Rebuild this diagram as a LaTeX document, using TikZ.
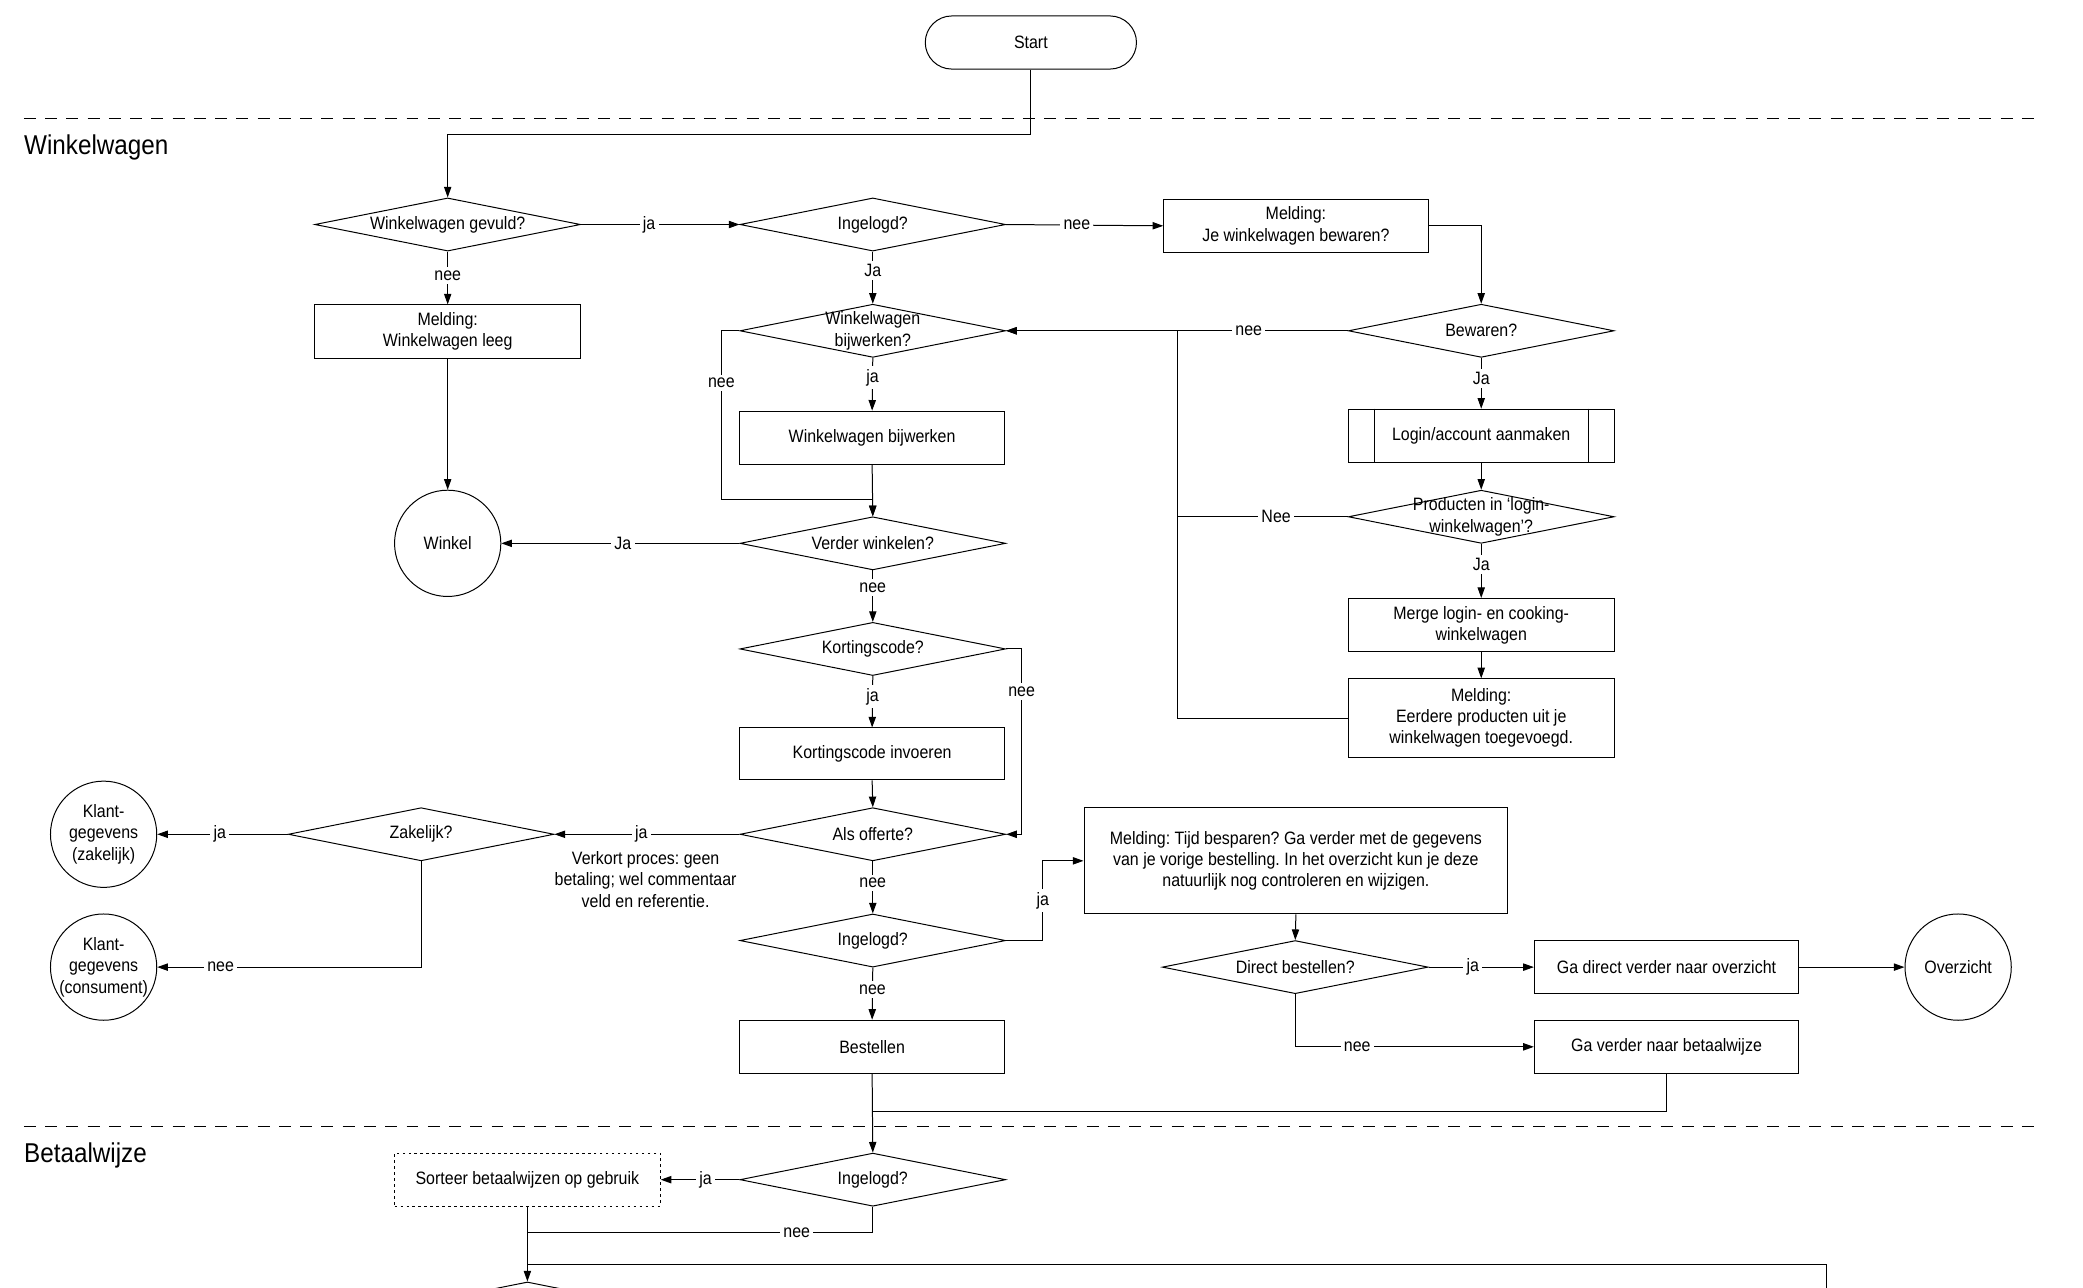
\documentclass[tikz,border=0pt]{standalone}
\usepackage{fontspec}
\setmainfont{Liberation Sans}[FakeStretch=0.89]
\usetikzlibrary{arrows.meta,shapes.geometric}
\frenchspacing
\tikzset{
 base/.style={draw, line width=0.75pt, inner sep=0pt},
 box/.style={base, rectangle, minimum width=200pt, minimum height=40pt, align=center},
 dec/.style={base, diamond, minimum width=200pt, minimum height=40pt},
 term/.style={base, circle, minimum size=80pt},
 arr/.style={line width=0.75pt, -{Triangle[length=8pt,width=5.5pt]}},
 ln/.style={line width=0.75pt},
 lbl/.style={fill=white, inner sep=2.5pt},
 sepline/.style={line width=0.75pt, dash pattern=on 9pt off 7pt},
 head/.style={font=\fontsize{20.5}{24}\selectfont, anchor=west, inner sep=0pt},
}
\begin{document}
\begin{tikzpicture}[x=1pt,y=-1pt,font=\fontsize{13.5}{16}\selectfont]
\clip (0,0) rectangle (1568,969);
\fill[white] (0,0) rectangle (1568,969);

% separators and headings
\coordinate (s1a) at (18,89); \coordinate (s1b) at (1535,89);
\coordinate (s2a) at (18,848); \coordinate (s2b) at (1535,848);
\draw[sepline] (s1a) -- (s1b);
\draw[sepline] (s2a) -- (s2b);
\node[head] (hw) at (18,111) {Winkelwagen};
\node[head] (hb) at (18,870) {Betaalwijze};

% nodes
\node[base, rectangle, rounded corners=20pt, minimum width=159pt, minimum height=40pt] (start) at (776,32) {Start};
\node[dec, label={[align=center]center:Winkelwagen gevuld?}] (gev) at (337,169) {};
\node[dec, label={[align=center]center:Ingelogd?}] (in1) at (657,169) {};
\node[box, minimum width=199pt] (mel1) at (975.5,170) {Melding:\\Je winkelwagen bewaren?};
\node[box] (leeg) at (337,249.5) {Melding:\\Winkelwagen leeg};
\node[dec, label={[align=center]center:Winkelwagen\\bijwerken?}] (bijw) at (657,249) {};
\node[dec, label={[align=center]center:Bewaren?}] (bew) at (1115,249) {};
\node[box, minimum width=199pt] (wbb) at (656.5,329.5) {Winkelwagen bijwerken};
\node[box] (login) at (1115,328) {Login/account aanmaken};
\draw[ln] ([xshift=20pt]login.north west) -- ([xshift=20pt]login.south west);
\draw[ln] ([xshift=-20pt]login.north east) -- ([xshift=-20pt]login.south east);
\node[dec, label={[align=center]center:Producten in ‘login-\\winkelwagen’?}] (prod) at (1115,389) {};
\node[term, label={[align=center]center:Winkel}] (winkel) at (337,409) {};
\node[dec, label={[align=center]center:Verder winkelen?}] (verder) at (657,409) {};
\node[box] (merge) at (1115,470.5) {Merge login- en cooking-\\winkelwagen};
\node[dec, label={[align=center]center:Kortingscode?}] (kc) at (657,488.5) {};
\node[box, minimum height=59pt] (mel3) at (1115,540.5) {Melding:\\Eerdere producten uit je\\winkelwagen toegevoegd.};
\node[box, minimum width=199pt, minimum height=39pt] (kci) at (656.5,567.5) {Kortingscode invoeren};
\node[dec, label={[align=center]center:Als offerte?}] (off) at (657,628) {};
\node[dec, label={[align=center]center:Zakelijk?}] (zak) at (317,628) {};
\node[term, label={[align=center]center:Klant-\\gegevens\\(zakelijk)}] (kz) at (78,628) {};
\node[term, label={[align=center]center:Klant-\\gegevens\\(consument)}] (kk) at (78,728) {};
\node[align=center, inner sep=0pt] (verk) at (486,662) {Verkort proces: geen\\betaling; wel commentaar\\veld en referentie.};
\node[box, minimum width=319pt, minimum height=80pt] (tijd) at (975.5,648) {Melding: Tijd besparen? Ga verder met de gegevens\\van je vorige bestelling. In het overzicht kun je deze\\natuurlijk nog controleren en wijzigen.};
\node[dec, label={[align=center]center:Ingelogd?}] (in2) at (657,708) {};
\node[dec, label={[align=center]center:Direct bestellen?}] (direct) at (975,728) {};
\node[box, minimum width=199pt] (gdv) at (1254.5,728) {Ga direct verder naar overzicht};
\node[term, label={[align=center]center:Overzicht}] (ovz) at (1474,728) {};
\node[box, minimum width=199pt] (gvb) at (1254.5,788) {Ga verder naar betaalwijze};
\node[box, minimum width=199pt] (best) at (656.5,788) {Bestellen};
\node[dec, label={[align=center]center:Ingelogd?}] (in3) at (657,888) {};
\node[box, draw, line width=0.7pt, dash pattern=on 2pt off 2.5pt] (sort) at (397,888) {Sorteer betaalwijzen op gebruik};
\node[dec] (bd) at (397,985) {};

% connectors
\draw[arr] (start.south) -- (776,101) -| (gev.north);
\draw[arr] (gev.east) -- node[lbl,pos=0.43]{ja} (in1.west);
\draw[arr] (in1.east) -- node[lbl,pos=0.45]{nee} (mel1.west);
\draw[arr] (mel1.east) -| (bew.north);
\draw[arr] (gev.south) -- node[lbl,pos=0.45]{nee} (leeg.north);
\draw[arr] (leeg.south) -- (winkel.north);
\draw[arr] (in1.south) -- node[lbl,pos=0.36]{Ja} (bijw.north);
\draw[arr] (bijw.south) -- node[lbl,pos=0.37]{ja} (wbb.north);
\draw[arr] (bijw.west) -- (543,249) -- node[lbl,pos=0.31]{nee} (543,376) -- (657,376) -- (verder.north);
\draw[arr] (wbb.south) -- (verder.north);
\draw[arr] (bew.west) -- node[lbl,pos=0.29]{nee} (bijw.east);
\draw[arr] (bew.south) -- node[lbl,pos=0.41]{Ja} (login.north);
\draw[arr] (login.south) -- (prod.north);
\draw[ln] (prod.west) -- node[lbl,pos=0.42]{Nee} (886,389);
\draw[arr] (mel3.west) -- (886,540.5) |- (bijw.east);
\draw[arr] (prod.south) -- node[lbl,pos=0.38]{Ja} (merge.north);
\draw[arr] (merge.south) -- (mel3.north);
\draw[arr] (verder.west) -- node[lbl,pos=0.49]{Ja} (winkel.east);
\draw[arr] (verder.south) -- node[lbl,pos=0.33]{nee} (kc.north);
\draw[arr] (kc.south) -- node[lbl,pos=0.4]{ja} (kci.north);
\draw[arr] (kc.east) -- (769,488.5) -- node[lbl,pos=0.23]{nee} (769,628) -- (off.east);
\draw[arr] (kci.south) -- (off.north);
\draw[arr] (off.west) -- node[lbl,pos=0.53]{ja} (zak.east);
\draw[arr] (zak.west) -- node[lbl,pos=0.52]{ja} (kz.east);
\draw[arr] (zak.south) |- node[lbl,pos=0.88]{nee} (kk.east);
\draw[arr] (off.south) -- node[lbl,pos=0.42]{nee} (in2.north);
\draw[arr] (in2.east) -- (785,708) -- node[lbl]{ja} (785,648) -- (tijd.west);
\draw[arr] (tijd.south) -- (direct.north);
\draw[arr] (direct.east) -- node[lbl,pos=0.42]{ja} (gdv.west);
\draw[arr] (gdv.east) -- (ovz.west);
\draw[arr] (direct.south) |- node[lbl,pos=0.63]{nee} (gvb.west);
\draw[arr] (in2.south) -- node[lbl,pos=0.42]{nee} (best.north);
\draw[ln] (gvb.south) |- (657,837);
\draw[arr] (best.south) -- (in3.north);
\draw[arr] (in3.west) -- node[lbl,pos=0.43]{ja} (sort.east);
\draw[ln] (in3.south) |- node[lbl,pos=0.61]{nee} (397,928);
\draw[arr] (sort.south) -- (bd.north);
\coordinate (ext) at (1375,990);
\draw[ln] (ext) |- (397,952);
\end{tikzpicture}
\end{document}
